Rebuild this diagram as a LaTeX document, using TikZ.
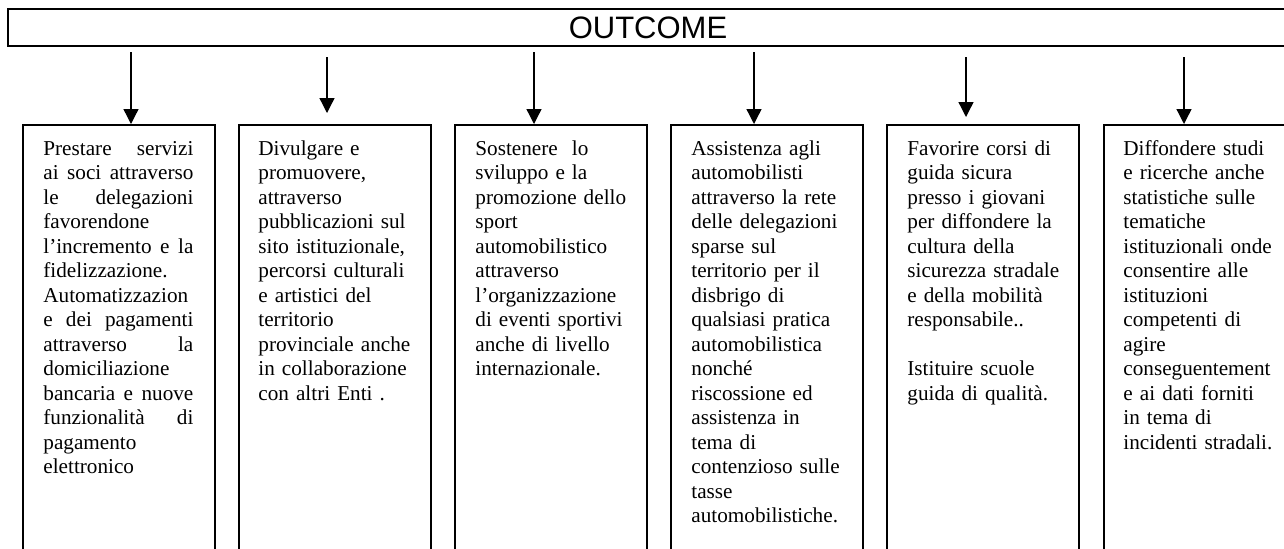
\documentclass[tikz,border=0pt]{standalone}
\usepackage{fontspec}
\setmainfont{Liberation Serif}
\newfontfamily\bannerfont{Liberation Sans}
\usetikzlibrary{arrows.meta}
\newcommand{\jl}[1]{\leavevmode\hbox to 75pt{#1}}
\begin{document}
\begin{tikzpicture}[x=0.5pt,y=-0.5pt,
  banner/.style={draw, line width=1pt, rectangle, minimum width=640pt, minimum height=18.5pt, anchor=north west, inner sep=0pt, font=\bannerfont\fontsize{15.5}{18}\selectfont},
  colbox/.style={draw, line width=0.75pt, rectangle, minimum width=96pt, minimum height=250pt, anchor=north west, inner sep=0pt},
  coltext/.style={anchor=base west, inner sep=0pt, text width=80pt, align=left, font=\fontsize{10.6}{12.25}\selectfont},
  arr/.style={line width=0.65pt, -{Triangle[length=7.5pt,width=7.5pt]}}]
\useasboundingbox (0,0) rectangle (1284,548);

\node[banner] (ban) at (7,8) {OUTCOME};

\node[colbox] (b1) at (22,124) {};
\node[colbox] (b2) at (238,124) {};
\node[colbox] (b3) at (454,124) {};
\node[colbox] (b4) at (670,124) {};
\node[colbox] (b5) at (886,124) {};
\node[colbox] (b6) at (1103,124) {};

\node[coltext] (t1) at (43,155) {\jl{Prestare\hfill servizi}\\
\jl{ai\hfill soci\hfill attraverso}\\
\jl{le\hfill delegazioni}\\
favorendone\\
\jl{l’incremento\hfill e\hfill la}\\
fidelizzazione.\\
Automatizzazion\\
\jl{e\hfill dei\hfill pagamenti}\\
\jl{attraverso\hfill la}\\
domiciliazione\\
\jl{bancaria\hfill e\hfill nuove}\\
\jl{funzionalità\hfill di}\\
pagamento\\
elettronico};

\node[coltext] (t2) at (258,155) {Divulgare e\\
promuovere,\\
attraverso\\
pubblicazioni sul\\
sito istituzionale,\\
percorsi culturali\\
e artistici del\\
territorio\\
provinciale anche\\
in collaborazione\\
con altri Enti .};

\node[coltext] (t3) at (475,155) {Sostenere\ \ lo\\
sviluppo e la\\
promozione dello\\
sport\\
automobilistico\\
attraverso\\
l’organizzazione\\
di eventi sportivi\\
anche di livello\\
internazionale.};

\node[coltext] (t4) at (691,155) {Assistenza agli\\
automobilisti\\
attraverso la rete\\
delle delegazioni\\
sparse sul\\
territorio per il\\
disbrigo di\\
qualsiasi pratica\\
automobilistica\\
nonché\\
riscossione ed\\
assistenza in\\
tema di\\
contenzioso sulle\\
tasse\\
automobilistiche.};

\node[coltext] (t5) at (907,155) {Favorire corsi di\\
guida sicura\\
presso i giovani\\
per diffondere la\\
cultura della\\
sicurezza stradale\\
e della mobilità\\
responsabile..\\[12.25pt]
Istituire scuole\\
guida di qualità.};

\node[coltext] (t6) at (1123,155) {Diffondere studi\\
e ricerche anche\\
statistiche sulle\\
tematiche\\
istituzionali onde\\
consentire alle\\
istituzioni\\
competenti di\\
agire\\
conseguentement\\
e ai dati forniti\\
in tema di\\
incidenti stradali.};

\coordinate (s1) at (131,52);
\coordinate (s2) at (327,57);
\coordinate (s3) at (534,52);
\coordinate (s4) at (754,52);
\coordinate (s5) at (966,57);
\coordinate (s6) at (1184,57);

\draw[arr] (s1) -- (s1 |- b1.north);
\draw[arr] (s2) -- ([yshift=5.5pt]s2 |- b2.north);
\draw[arr] (s3) -- (s3 |- b3.north);
\draw[arr] (s4) -- (s4 |- b4.north);
\draw[arr] (s5) -- ([yshift=3.5pt]s5 |- b5.north);
\draw[arr] (s6) -- (s6 |- b6.north);
\end{tikzpicture}
\end{document}
